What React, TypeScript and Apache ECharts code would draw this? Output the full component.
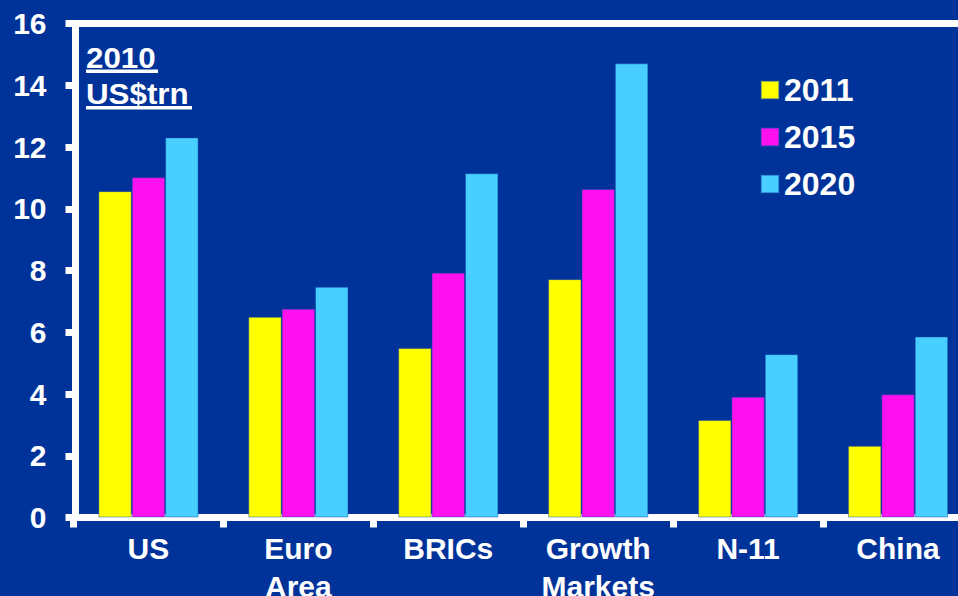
import React, { useEffect, useRef } from "react";
import * as echarts from "echarts";

const categories = ["US", "Euro\nArea", "BRICs", "Growth\nMarkets", "N-11", "China"];
const seriesNames = ["2011", "2015", "2020"];
const values2011 = [10.57, 6.5, 5.49, 7.72, 3.16, 2.32];
const values2015 = [11.02, 6.76, 7.93, 10.64, 3.91, 3.99];
const values2020 = [12.31, 7.47, 11.15, 14.71, 5.29, 5.86];
const seriesColors = ["#FFFF00", "#FF10EE", "#48CFFF"];
const yMin = 0;
const yMax = 16;
const yInterval = 2;
const titleLines = ["2010", "US$trn"];

const FONT = "'Liberation Sans', Arial, Helvetica, sans-serif";
const BG = "#003399";

export default function App() {
  const ref = useRef<HTMLDivElement>(null);

  useEffect(() => {
    if (!ref.current) return;
    const chart = echarts.init(ref.current, null, { renderer: "svg" });
    const allValues = [values2011, values2015, values2020];

    const option: any = {
      animation: false,
      backgroundColor: BG,
      grid: {
        left: 73.5,
        top: 23.5,
        bottom: 78.5,
        right: -15,
        containLabel: false,
        outerBoundsMode: "none",
        show: false,
      },
      legend: {
        orient: "vertical",
        left: 755,
        top: 69,
        itemWidth: 18,
        itemHeight: 18,
        itemGap: 15,
        icon: "rect",
        data: seriesNames,
        textStyle: {
          color: "#FFFFFF",
          fontSize: 32,
          fontWeight: "bold",
          fontFamily: FONT,
          lineHeight: 32,
        },
      },
      xAxis: [
        {
          type: "category",
          data: categories,
          axisLine: { show: true, lineStyle: { color: "#FFFFFF", width: 7 } },
          axisTick: { show: true, length: 10, lineStyle: { color: "#FFFFFF", width: 7 } },
          axisLabel: {
            interval: 0,
            color: "#FFFFFF",
            fontSize: 30,
            fontWeight: "bold",
            fontFamily: FONT,
            lineHeight: 38,
            margin: 12,
          },
          splitLine: { show: false },
        },
        {
          type: "category",
          position: "top",
          data: categories,
          axisLine: { show: true, lineStyle: { color: "#FFFFFF", width: 7 } },
          axisTick: { show: false },
          axisLabel: { show: false },
          splitLine: { show: false },
        },
      ],
      yAxis: {
        type: "value",
        min: yMin,
        max: yMax,
        interval: yInterval,
        offset: -2,
        axisLine: { show: true, lineStyle: { color: "#FFFFFF", width: 7 } },
        axisTick: { show: true, length: 10, lineStyle: { color: "#FFFFFF", width: 7 } },
        axisLabel: {
          color: "#FFFFFF",
          fontSize: 30,
          fontWeight: "bold",
          fontFamily: FONT,
          margin: 29,
        },
        splitLine: { show: false },
      },
      graphic: [
        {
          type: "text",
          x: 86,
          y: 58,
          scaleX: 1.08,
          style: {
            text: titleLines[0],
            fill: "#FFFFFF",
            font: `bold 29px ${FONT}`,
            verticalAlign: "middle",
            align: "left",
          },
        },
        {
          type: "rect",
          shape: { x: 86, y: 69.5, width: 72, height: 3.5 },
          style: { fill: "#FFFFFF" },
        },
        {
          type: "text",
          x: 86,
          y: 94,
          scaleX: 1.08,
          style: {
            text: titleLines[1],
            fill: "#FFFFFF",
            font: `bold 29px ${FONT}`,
            verticalAlign: "middle",
            align: "left",
          },
        },
        {
          type: "rect",
          shape: { x: 86, y: 106, width: 106, height: 3.5 },
          style: { fill: "#FFFFFF" },
        },
      ],
      series: seriesNames.map((name, i) => ({
        name,
        type: "bar",
        xAxisIndex: 0,
        data: allValues[i],
        barWidth: 33.4,
        barGap: "0%",
        itemStyle: {
          color: seriesColors[i],
          borderColor: "rgba(20,70,170,0.45)",
          borderWidth: 1,
        },
      })),
    };

    chart.setOption(option);
    return () => chart.dispose();
  }, []);

  return (
    <div
      ref={ref}
      style={{ position: "fixed", left: 0, top: 0, width: 958, height: 596 }}
    />
  );
}
